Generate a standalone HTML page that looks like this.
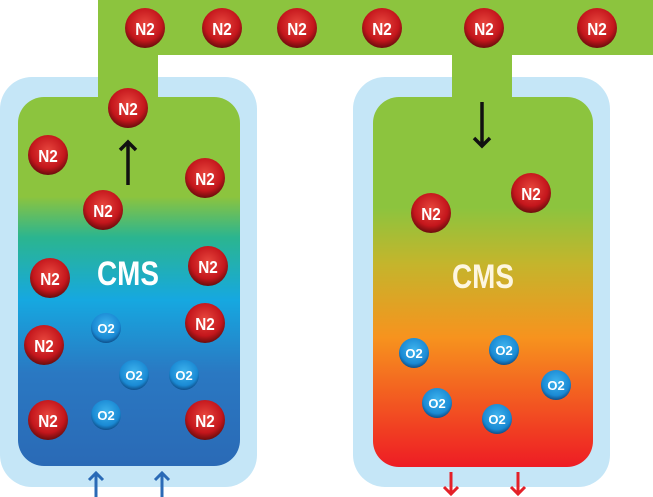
<!DOCTYPE html>
<html><head><style>
body{margin:0;width:653px;height:497px;background:#fff;overflow:hidden;position:relative;font-family:"Liberation Sans",sans-serif}
svg{position:absolute;left:0;top:0}
</style></head><body>
<svg width="653" height="497" viewBox="0 0 653 497">
<defs>
<linearGradient id="gl" x1="0" y1="97" x2="0" y2="466" gradientUnits="userSpaceOnUse">
<stop offset="0" stop-color="#8cc43e"/><stop offset="0.27" stop-color="#8cc43e"/>
<stop offset="0.38" stop-color="#2bb58f"/><stop offset="0.55" stop-color="#16a8e0"/>
<stop offset="0.75" stop-color="#2a78c2"/><stop offset="1" stop-color="#2a6ab6"/>
</linearGradient>
<linearGradient id="gr" x1="0" y1="97" x2="0" y2="467" gradientUnits="userSpaceOnUse">
<stop offset="0" stop-color="#8cc43e"/><stop offset="0.3" stop-color="#8cc43e"/>
<stop offset="0.45" stop-color="#c4b52c"/><stop offset="0.65" stop-color="#f7931e"/>
<stop offset="1" stop-color="#ee1c24"/>
</linearGradient>
<radialGradient id="rn" cx="0.5" cy="0.4" r="0.6">
<stop offset="0" stop-color="#e8473e"/><stop offset="0.7" stop-color="#c4161c"/><stop offset="1" stop-color="#6a0d0d"/>
</radialGradient>
<radialGradient id="ro" cx="0.5" cy="0.4" r="0.6">
<stop offset="0" stop-color="#3fb4ee"/><stop offset="0.75" stop-color="#1a8ad4"/><stop offset="1" stop-color="#0f4f8a"/>
</radialGradient>
<g id="n2"><circle r="20" fill="url(#rn)"/><text y="7" text-anchor="middle" font-size="18" font-weight="bold" fill="#fff" transform="scale(0.85,1)">N2</text></g>
<g id="o2"><circle r="15" fill="url(#ro)"/><text y="5" text-anchor="middle" font-size="13" font-weight="bold" fill="#fff">O2</text></g>
</defs>
<rect x="0" y="77" width="257" height="410" rx="32" fill="#c5e6f7"/>
<rect x="353" y="77" width="257" height="410" rx="32" fill="#c5e6f7"/>
<rect x="18" y="97" width="222" height="369" rx="26" fill="url(#gl)"/>
<rect x="373" y="97" width="220" height="370" rx="26" fill="url(#gr)"/>
<rect x="98" y="0" width="555" height="55" fill="#8cc43e"/>
<rect x="98" y="0" width="60" height="110" fill="#8cc43e"/>
<rect x="452" y="50" width="60" height="60" fill="#8cc43e"/>
<text x="128" y="285" text-anchor="middle" font-size="34" font-weight="bold" fill="#fff" transform="translate(128,0) scale(0.82,1) translate(-128,0)">CMS</text>
<text x="483" y="288" text-anchor="middle" font-size="34" font-weight="bold" fill="#fdf6e0" transform="translate(483,0) scale(0.82,1) translate(-483,0)">CMS</text>
<g stroke="#111" stroke-width="3.5" fill="none">
<path d="M128 185V142M120 150L128 142L136 150"/>
<path d="M482 102V146M474 138L482 146L490 138"/>
</g>
<g stroke="#2a6ab6" stroke-width="3" fill="none">
<path d="M96 497V473M89 480L96 473L103 480"/><path d="M162 497V473M155 480L162 473L169 480"/>
</g>
<g stroke="#e42028" stroke-width="3" fill="none">
<path d="M451 472V494M444 487L451 494L458 487"/><path d="M518 472V494M511 487L518 494L525 487"/>
</g>
<use href="#n2" x="145" y="28"/><use href="#n2" x="222" y="28"/><use href="#n2" x="297" y="28"/>
<use href="#n2" x="382" y="28"/><use href="#n2" x="484" y="28"/><use href="#n2" x="597" y="28"/>
<use href="#n2" x="128" y="108"/><use href="#n2" x="48" y="155"/><use href="#n2" x="205" y="178"/>
<use href="#n2" x="103" y="210"/><use href="#n2" x="50" y="278"/><use href="#n2" x="208" y="266"/>
<use href="#n2" x="44" y="345"/><use href="#n2" x="205" y="323"/><use href="#n2" x="48" y="420"/>
<use href="#n2" x="205" y="420"/><use href="#n2" x="431" y="213"/><use href="#n2" x="531" y="193"/>
<use href="#o2" x="106" y="328"/><use href="#o2" x="134" y="375"/><use href="#o2" x="184" y="375"/><use href="#o2" x="106" y="415"/>
<use href="#o2" x="414" y="353"/><use href="#o2" x="504" y="350"/><use href="#o2" x="437" y="403"/><use href="#o2" x="497" y="419"/><use href="#o2" x="556" y="385"/>
</svg>
</body></html>
